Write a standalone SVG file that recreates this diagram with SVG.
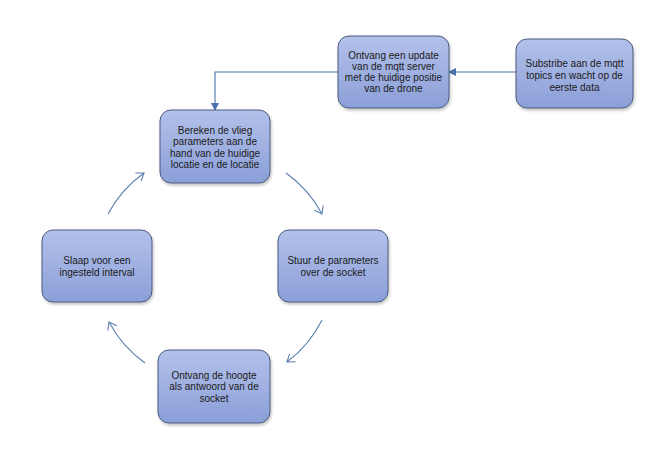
<svg xmlns="http://www.w3.org/2000/svg" width="669" height="474" viewBox="0 0 669 474">
  <style>
    .box { fill: url(#boxFill); stroke: #4a5a80; stroke-width: 1; filter: url(#shadow); }
    .lbl { font-family: "Liberation Sans", Arial, sans-serif; font-size: 10px; fill: #1a1a1a; text-anchor: middle; }
    .link { fill: none; stroke: #4a72b0; stroke-width: 1.1; }
    .cycle { fill: none; stroke: #5b7db0; stroke-width: 1.1; }
  </style>
  <defs>
    <linearGradient id="boxFill" x1="0" y1="0" x2="0" y2="1">
      <stop offset="0" stop-color="#b3c1ea"/>
      <stop offset="1" stop-color="#8b9fd8"/>
    </linearGradient>
    <filter id="shadow" x="-10%" y="-10%" width="125%" height="130%">
      <feGaussianBlur in="SourceAlpha" stdDeviation="1.5"/>
      <feOffset dx="1" dy="2" result="b"/>
      <feComponentTransfer><feFuncA type="linear" slope="0.25"/></feComponentTransfer>
      <feMerge><feMergeNode/><feMergeNode in="SourceGraphic"/></feMerge>
    </filter>
    <marker id="solidHead" markerWidth="8" markerHeight="8" refX="7" refY="4" orient="auto" markerUnits="userSpaceOnUse">
      <path d="M0,0 L8,4 L0,8 Z" fill="#4a72b0"/>
    </marker>
    <marker id="openHead" markerWidth="10" markerHeight="12" refX="8" refY="6" orient="auto" markerUnits="userSpaceOnUse">
      <path d="M1,1 L8,6 L1,11" fill="none" stroke="#5b7db0" stroke-width="1.1"/>
    </marker>
  </defs>

  <!-- connectors -->
  <g id="connectors">
    <path class="link" d="M516,72 L449,72" marker-end="url(#solidHead)"/>
    <path class="link" d="M338,72 L215,72 L215,110" marker-end="url(#solidHead)"/>
    <path class="cycle" d="M286,173 A119,119 0 0 1 322,214" marker-end="url(#openHead)"/>
    <path class="cycle" d="M322,320 A119,119 0 0 1 287,362" marker-end="url(#openHead)"/>
    <path class="cycle" d="M145,363 A119,119 0 0 1 109,322" marker-end="url(#openHead)"/>
    <path class="cycle" d="M108,214 A119,119 0 0 1 144,173" marker-end="url(#openHead)"/>
  </g>

  <g id="node-update">
    <rect class="box" x="338" y="36" width="111" height="72" rx="11"/>
    <text class="lbl" x="393.5" y="58.5">Ontvang een update</text>
    <text class="lbl" x="393.5" y="69.5">van de mqtt server</text>
    <text class="lbl" x="393.5" y="80.5">met de huidige positie</text>
    <text class="lbl" x="393.5" y="91.5">van de drone</text>
  </g>

  <g id="node-subscribe">
    <rect class="box" x="516" y="39" width="117" height="69" rx="11"/>
    <text class="lbl" x="574.5" y="66.5">Substribe aan de mqtt</text>
    <text class="lbl" x="574.5" y="78.5">topics en wacht op  de</text>
    <text class="lbl" x="574.5" y="90.5">eerste data</text>
  </g>

  <g id="node-bereken">
    <rect class="box" x="160" y="110" width="110" height="73" rx="11"/>
    <text class="lbl" x="215" y="133.5">Bereken de vlieg</text>
    <text class="lbl" x="215" y="145">parameters aan de</text>
    <text class="lbl" x="215" y="156.5">hand van de huidige</text>
    <text class="lbl" x="215" y="168">locatie en de locatie</text>
  </g>

  <g id="node-stuur">
    <rect class="box" x="278" y="230" width="110" height="72" rx="11"/>
    <text class="lbl" x="333" y="263.5">Stuur de parameters</text>
    <text class="lbl" x="333" y="275.5">over de socket</text>
  </g>

  <g id="node-hoogte">
    <rect class="box" x="158" y="350" width="112" height="73" rx="11"/>
    <text class="lbl" x="214" y="378.5">Ontvang de hoogte</text>
    <text class="lbl" x="214" y="390">als antwoord van de</text>
    <text class="lbl" x="214" y="401.5">socket</text>
  </g>

  <g id="node-slaap">
    <rect class="box" x="42" y="230" width="110" height="72" rx="11"/>
    <text class="lbl" x="97" y="263.5">Slaap voor een</text>
    <text class="lbl" x="97" y="275.5">ingesteld interval</text>
  </g>
</svg>
